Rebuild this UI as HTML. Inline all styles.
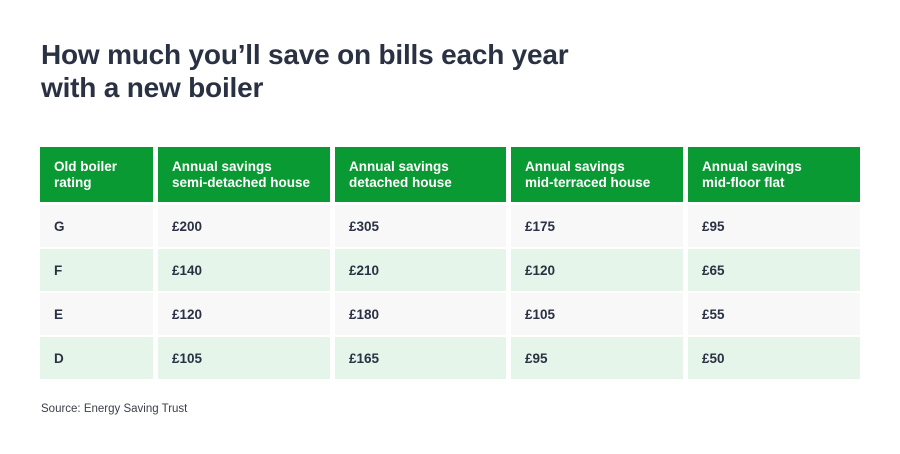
<!DOCTYPE html>
<html><head><meta charset="utf-8"><style>
body{margin:0;width:900px;height:454px;background:#fff;font-family:"Liberation Sans",sans-serif;position:relative;overflow:hidden;color:#2a3142}
.t{position:absolute;left:41px;top:38px;font-size:28px;font-weight:bold;line-height:33px;letter-spacing:-0.2px;color:#2a3142}
.c{position:absolute;box-sizing:border-box;padding-left:14px;display:flex;align-items:center;font-weight:bold;font-size:13.5px}
.h{background:#0a9a33;color:#fff;line-height:16px}
.r0{background:#f8f8f8}.r1{background:#e6f5ea}
.s{position:absolute;left:41px;top:403px;font-size:11.5px;color:#3a3f4a}
</style></head><body>
<div class="t">How much you’ll save on bills each year<br>with a new boiler</div>
<div id="tbl"></div>
<div class="s">Source: Energy Saving Trust</div>
<script>
const headers=["Old boiler<br>rating","Annual savings<br>semi-detached house","Annual savings<br>detached house","Annual savings<br>mid-terraced house","Annual savings<br>mid-floor flat"];
const ratings=["G","F","E","D"];
const semi=["£200","£140","£120","£105"];
const detached=["£305","£210","£180","£165"];
const terraced=["£175","£120","£105","£95"];
const flat=["£95","£65","£55","£50"];
const colX=[40,158,335,511,688],colW=[113,172,171,172,172];
const rowY=[205,249,293,337],rowH=42;
const tbl=document.getElementById('tbl');
function cell(x,y,w,h,cls,html,name){const d=document.createElement('div');d.className='c '+cls;
d.style.left=x+'px';d.style.top=y+'px';d.style.width=w+'px';d.style.height=h+'px';d.innerHTML=html;


tbl.appendChild(d);}
headers.forEach((h,i)=>cell(colX[i],147,colW[i],55,'h',h,'header-cell'));
const cols=[ratings,semi,detached,terraced,flat];
ratings.forEach((r,j)=>cols.forEach((c,i)=>cell(colX[i],rowY[j],colW[i],rowH,'r'+(j%2),c[j],'table-cell')));
</script>
</body></html>
